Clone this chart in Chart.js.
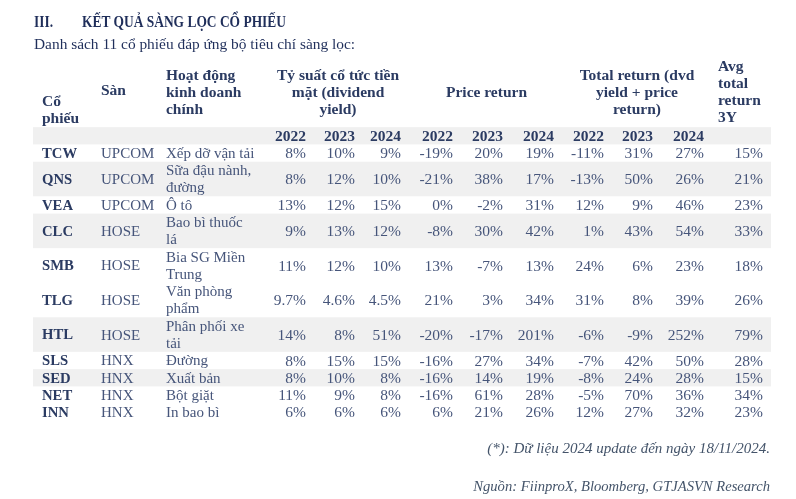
<!DOCTYPE html>
<html><head><meta charset="utf-8">
<script src="https://cdn.jsdelivr.net/npm/chart.js@4/dist/chart.umd.min.js"></script>
<style>
html,body{margin:0;padding:0;background:#fff;}
#wrap{position:relative;width:796px;height:499px;overflow:hidden;background:#fff;}
#c{position:absolute;left:0;top:0;}
.t{position:absolute;font-family:'Liberation Serif','DejaVu Serif',serif;white-space:nowrap;line-height:16px;}
.sq{transform-origin:left center;transform:scaleX(0.84);}
</style></head><body>
<div id="wrap">
<canvas id="c" width="796" height="499"></canvas>
<div class="t sq" style="left:34px;top:14px;font-weight:bold;font-size:16px;color:#1F2E5A">III.</div>
<div class="t sq" style="left:82px;top:14px;font-weight:bold;font-size:16px;color:#1F2E5A">KẾT QUẢ SÀNG LỌC CỔ PHIẾU</div>
<div class="t" style="left:34px;top:36px;font-size:15.4px;color:#1F2E5A">Danh sách 11 cổ phiếu đáp ứng bộ tiêu chí sàng lọc:</div>
<div class="t" style="right:26px;top:440px;font-size:15px;font-style:italic;color:#44546A">(*): Dữ liệu 2024 update đến ngày 18/11/2024.</div>
<div class="t" style="right:26px;top:478px;font-size:14.6px;font-style:italic;color:#44546A">Nguồn: FiinproX, Bloomberg, GTJASVN Research</div>
</div>
<script>
// ---- data ----
const tickers = ['TCW','QNS','VEA','CLC','SMB','TLG','HTL','SLS','SED','NET','INN'];
const exchanges = ['UPCOM','UPCOM','UPCOM','HOSE','HOSE','HOSE','HOSE','HNX','HNX','HNX','HNX'];
const activities = [['Xếp dỡ vận tải'],['Sữa đậu nành,','đường'],['Ô tô'],['Bao bì thuốc','lá'],['Bia SG Miền','Trung'],['Văn phòng','phẩm'],['Phân phối xe','tải'],['Đường'],['Xuất bản'],['Bột giặt'],['In bao bì']];
const years = ['2022','2023','2024'];
const divYield2022 = [8,8,13,9,11,9.7,14,8,8,11,6];
const divYield2023 = [10,12,12,13,12,4.6,8,15,10,9,6];
const divYield2024 = [9,10,15,12,10,4.5,51,15,8,8,6];
const price2022 = [-19,-21,0,-8,13,21,-20,-16,-16,-16,6];
const price2023 = [20,38,-2,30,-7,3,-17,27,14,61,21];
const price2024 = [19,17,31,42,13,34,201,34,19,28,26];
const total2022 = [-11,-13,12,1,24,31,-6,-7,-8,-5,12];
const total2023 = [31,50,9,43,6,8,-9,42,24,70,27];
const total2024 = [27,26,46,54,23,39,252,50,28,36,32];
const avg3Y = [15,21,23,33,18,26,79,28,15,34,23];
const headerTicker = ['Cổ','phiếu'];
const headerExchange = ['Sàn'];
const headerActivity = ['Hoạt động','kinh doanh','chính'];
const headerDiv = ['Tỷ suất cổ tức tiền','mặt (dividend','yield)'];
const headerPrice = ['Price return'];
const headerTotal = ['Total return (dvd','yield + price','return)'];
const headerAvg = ['Avg','total','return','3Y'];

// ---- layout (not data) ----
const shadedRows = [false,true,false,true,false,false,true,false,true,false,false];
const HEADER_LINES = 4, YEAR_LINES = 1;
const colX = {ticker:1.22, exch:9.21, act:18.02, div:[36.99,43.63,49.86], price:[56.91,63.69,70.60], total:[77.37,84.01,90.92], avg:98.92,
  divHead:41.33, priceHead:61.45, totalHead:81.84, avgHead:92.82};
const SHADE = '#F0F0F0';
const FONT = "'Liberation Serif','DejaVu Serif',serif";
const textFont = '15px ' + FONT;
const numFont = '15.5px ' + FONT;
const tickFont = 'bold 14.7px ' + FONT;
const headFont = 'bold 15.5px ' + FONT;
const dataColor = '#46557A';
const headColor = '#2B3B62';

// row geometry in "line" units
const rowLines = activities.map(a => a.length);
const rowTop = [];
let acc = HEADER_LINES + YEAR_LINES;
rowLines.forEach(n => { rowTop.push(acc); acc += n; });
const totalLines = acc;
const rowCenter = rowLines.map((n,i) => rowTop[i] + n/2);

const pct = v => String(v) + '%';
function colDataset(x, texts, align, font, color){
  return {data: texts.map((t,i)=>({x:x, y:rowCenter[i]})), texts: texts.map(t=>Array.isArray(t)?t:[t]), align, font, color};
}
function headDataset(x, y, lines, align){
  return {data:[{x, y}], texts:[lines], align, font:headFont, color:headColor};
}
const datasets = [
  colDataset(colX.ticker, tickers, 'left', tickFont, headColor),
  colDataset(colX.exch, exchanges, 'left', textFont, dataColor),
  colDataset(colX.act, activities, 'left', textFont, dataColor),
  ...[divYield2022,divYield2023,divYield2024].map((s,k)=>colDataset(colX.div[k], s.map(pct), 'right', numFont, dataColor)),
  ...[price2022,price2023,price2024].map((s,k)=>colDataset(colX.price[k], s.map(pct), 'right', numFont, dataColor)),
  ...[total2022,total2023,total2024].map((s,k)=>colDataset(colX.total[k], s.map(pct), 'right', numFont, dataColor)),
  colDataset(colX.avg, avg3Y.map(pct), 'right', numFont, dataColor),
  headDataset(colX.ticker, 3.0, headerTicker, 'left'),
  headDataset(colX.exch, 1.85, headerExchange, 'left'),
  headDataset(colX.act, 1.95, headerActivity, 'left'),
  headDataset(colX.divHead, 1.95, headerDiv, 'center'),
  headDataset(colX.priceHead, 1.95, headerPrice, 'center'),
  headDataset(colX.totalHead, 1.95, headerTotal, 'center'),
  headDataset(colX.avgHead, 1.95, headerAvg, 'left'),
  ...['div','price','total'].flatMap(g => years.map((yr,k)=>headDataset(colX[g][k], HEADER_LINES + 0.5, [yr], 'right')))
].map(d => Object.assign(d, {type:'scatter', pointRadius:0, pointHoverRadius:0}));

const tablePlugin = {
  id:'tableText',
  beforeDatasetsDraw(chart){
    const {ctx, chartArea:a, scales:{y}} = chart;
    ctx.save();
    ctx.fillStyle = SHADE;
    const band = (t,b) => { const y0=y.getPixelForValue(t), y1=y.getPixelForValue(b); ctx.fillRect(a.left, y0, a.right-a.left, y1-y0); };
    band(HEADER_LINES, HEADER_LINES + YEAR_LINES);
    rowTop.forEach((t,i)=>{ if(shadedRows[i]) band(t, t+rowLines[i]); });
    ctx.restore();
  },
  afterDatasetsDraw(chart){
    const {ctx, scales:{y}} = chart;
    const lh = Math.abs(y.getPixelForValue(1) - y.getPixelForValue(0)) * 0.985;
    ctx.save();
    ctx.textBaseline = 'middle';
    chart.data.datasets.forEach((ds,di)=>{
      const meta = chart.getDatasetMeta(di);
      ctx.font = ds.font; ctx.fillStyle = ds.color; ctx.textAlign = ds.align;
      meta.data.forEach((pt,i)=>{
        const lines = ds.texts[i];
        const y0 = pt.y - (lines.length-1)*lh/2;
        lines.forEach((ln,k)=> ctx.fillText(ln, pt.x, y0 + k*lh + 1));
      });
    });
    ctx.restore();
  }
};

new Chart(document.getElementById('c'), {
  type:'scatter',
  data:{datasets},
  options:{
    responsive:false, animation:false, devicePixelRatio:1,
    layout:{padding:{left:33, right:25, top:58, bottom:78}},
    plugins:{legend:{display:false}, tooltip:{enabled:false}},
    events:[],
    scales:{
      x:{type:'linear', min:0, max:100, display:false},
      y:{type:'linear', min:0, max:totalLines, reverse:true, display:false}
    }
  },
  plugins:[tablePlugin]
});
</script>
</body></html>
